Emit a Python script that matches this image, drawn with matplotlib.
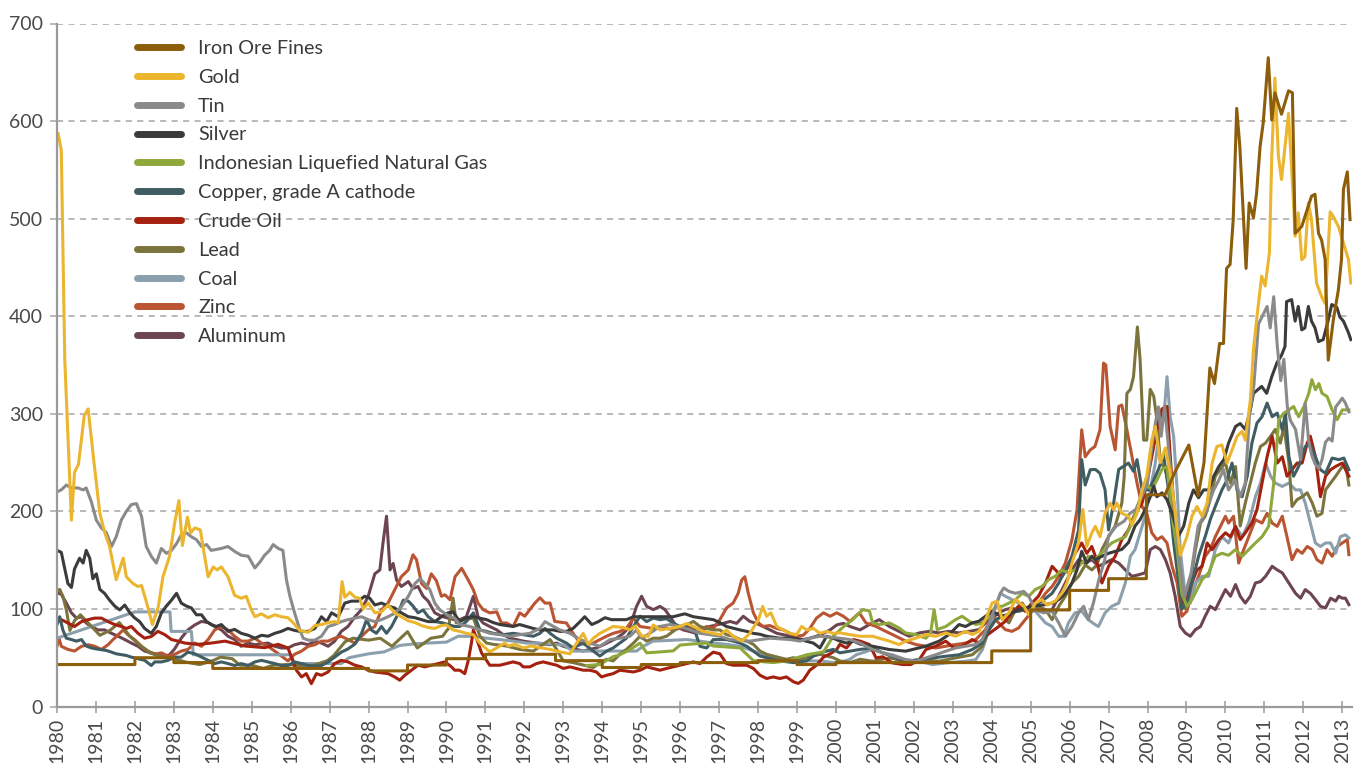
import matplotlib.pyplot as plt
from matplotlib.ticker import MultipleLocator

plt.rcParams['font.family'] = ['Lato', 'DejaVu Sans']

# (year, index value)
iron_ore = [(1980.0, 43), (1982.0, 43), (1982.0, 50), (1983.0, 50), (1983.0, 45), (1984.0, 45), (1984.0, 39),
            (1988.0, 39), (1988.0, 36.5), (1989.0, 36.5), (1989.0, 42.5), (1990.0, 42.5), (1990.0, 49),
            (1991.0, 49), (1991.0, 53.5), (1992.8, 53.5), (1992.8, 47), (1994.0, 47), (1994.0, 40),
            (1995.0, 40), (1995.0, 43), (1996.0, 43), (1996.0, 45), (1998.0, 45), (1998.0, 47), (1999.0, 47),
            (1999.0, 43), (2000.0, 43), (2000.0, 45), (2004.0, 45), (2004.0, 57), (2005.0, 57), (2005.0, 99),
            (2006.0, 99), (2006.0, 119), (2007.0, 119), (2007.0, 131), (2007.97, 131), (2007.97, 217),
            (2008.45, 217), (2008.7, 240), (2009.06, 268), (2009.3, 216), (2009.45, 250), (2009.6, 347),
            (2009.72, 331), (2009.85, 372), (2009.95, 372), (2010.03, 449), (2010.12, 453), (2010.2, 499),
            (2010.29, 613), (2010.37, 574), (2010.53, 449), (2010.61, 516), (2010.72, 501), (2010.8, 526),
            (2010.89, 574), (2010.97, 598), (2011.1, 665), (2011.19, 601), (2011.27, 629), (2011.44, 607),
            (2011.62, 631), (2011.72, 629), (2011.79, 485), (2011.96, 492), (2012.21, 523), (2012.3, 525),
            (2012.39, 485), (2012.47, 478), (2012.56, 458), (2012.64, 355), (2012.77, 396), (2012.9, 427),
            (2012.98, 458), (2013.03, 530), (2013.13, 548), (2013.2, 499)]

gold = [(1980.03, 587), (1980.11, 570), (1980.2, 355), (1980.37, 191), (1980.45, 240), (1980.55, 248),
        (1980.7, 298), (1980.8, 305), (1980.95, 250), (1981.1, 198), (1981.22, 179), (1981.35, 164),
        (1981.52, 130), (1981.7, 152), (1981.78, 133), (1981.95, 126), (1982.08, 123), (1982.17, 124),
        (1982.29, 108), (1982.45, 84), (1982.6, 102), (1982.72, 133), (1982.89, 154), (1983.02, 188),
        (1983.13, 211), (1983.22, 165), (1983.35, 194), (1983.43, 178), (1983.54, 183), (1983.68, 181),
        (1983.79, 154), (1983.88, 133), (1984.01, 143), (1984.11, 140), (1984.22, 143), (1984.39, 133),
        (1984.56, 114), (1984.73, 111), (1984.86, 113), (1984.99, 99), (1985.08, 92), (1985.25, 95),
        (1985.42, 91), (1985.59, 94), (1985.76, 92), (1985.93, 91), (1986.06, 86), (1986.23, 78),
        (1986.45, 76), (1986.62, 83), (1986.79, 84), (1986.96, 86), (1987.13, 87), (1987.22, 86),
        (1987.32, 128), (1987.39, 112), (1987.52, 117), (1987.65, 112), (1987.77, 111), (1987.86, 100),
        (1987.99, 106), (1988.16, 96), (1988.33, 97), (1988.5, 104), (1988.67, 96), (1988.84, 92),
        (1989.01, 88), (1989.19, 86), (1989.36, 83), (1989.53, 81), (1989.7, 80), (1989.87, 83),
        (1990.0, 83.6), (1990.17, 78.5), (1990.34, 77), (1990.51, 75), (1990.69, 73.6), (1990.86, 65),
        (1991.11, 56), (1991.29, 60), (1991.5, 65), (1991.59, 62), (1991.76, 63.7), (1991.97, 60),
        (1992.18, 62), (1992.4, 60.3), (1992.66, 58.5), (1992.91, 56), (1993.17, 54), (1993.34, 65),
        (1993.51, 75), (1993.64, 63.7), (1993.77, 70), (1993.94, 75), (1994.11, 78.5), (1994.28, 82),
        (1994.54, 81), (1994.71, 78.5), (1994.84, 82.5), (1995.01, 72.4), (1995.18, 72), (1995.31, 83.6),
        (1995.48, 78.5), (1995.74, 80), (1995.99, 82), (1996.17, 85), (1996.34, 82), (1996.59, 77),
        (1996.85, 75), (1997.02, 73.6), (1997.19, 78.5), (1997.36, 72), (1997.58, 67), (1997.79, 75),
        (1998.01, 89), (1998.12, 102.5), (1998.22, 92.5), (1998.33, 96), (1998.48, 82), (1998.65, 78.5),
        (1998.82, 75), (1998.99, 73.6), (1999.12, 82), (1999.25, 78.5), (1999.42, 80), (1999.59, 75),
        (1999.76, 77), (1999.93, 75), (2000.1, 75.5), (2000.36, 73.6), (2000.62, 72), (2000.94, 72),
        (2001.37, 67), (2001.62, 63.5), (2001.79, 67), (2002.05, 70), (2002.31, 73.7), (2002.56, 72),
        (2002.82, 75.4), (2003.07, 72), (2003.33, 77), (2003.5, 73.7), (2003.67, 77), (2003.84, 89),
        (2004.01, 106), (2004.14, 108), (2004.27, 89), (2004.44, 96), (2004.61, 109.6), (2004.82, 103),
        (2004.95, 94), (2005.12, 106), (2005.29, 109.6), (2005.42, 104), (2005.63, 108), (2005.8, 116),
        (2005.93, 126.6), (2006.06, 147), (2006.23, 168), (2006.34, 202), (2006.44, 164), (2006.57, 178),
        (2006.66, 184.6), (2006.78, 174), (2006.91, 198), (2007.04, 208.5), (2007.13, 201.7),
        (2007.21, 208.5), (2007.34, 198), (2007.51, 195), (2007.6, 186), (2007.73, 198), (2007.86, 222),
        (2007.98, 236), (2008.11, 273), (2008.2, 287), (2008.33, 250), (2008.46, 265), (2008.58, 240),
        (2008.71, 200), (2008.84, 155), (2009.01, 174), (2009.14, 195), (2009.27, 205), (2009.4, 195),
        (2009.53, 208.5), (2009.66, 249.5), (2009.78, 266.5), (2009.91, 268), (2010.04, 249.5),
        (2010.17, 263), (2010.3, 277), (2010.43, 282), (2010.51, 273), (2010.64, 314), (2010.72, 366),
        (2010.8, 396), (2010.93, 441), (2011.02, 431), (2011.13, 465), (2011.19, 564), (2011.27, 644),
        (2011.36, 564), (2011.44, 540), (2011.62, 608), (2011.74, 523), (2011.79, 482), (2011.87, 506),
        (2011.96, 458), (2012.04, 461), (2012.13, 516), (2012.21, 499), (2012.34, 434), (2012.47, 420),
        (2012.56, 413), (2012.69, 507), (2012.77, 502), (2012.9, 492), (2013.03, 475), (2013.16, 458),
        (2013.22, 434)]

tin = [(1980.0, 220), (1980.11, 222), (1980.24, 227), (1980.37, 224), (1980.54, 224), (1980.67, 222),
       (1980.75, 224), (1980.88, 210), (1981.01, 191), (1981.14, 183), (1981.27, 178), (1981.4, 164),
       (1981.52, 174), (1981.65, 191), (1981.78, 200), (1981.91, 207), (1982.04, 208), (1982.17, 195),
       (1982.29, 164), (1982.42, 154), (1982.55, 147), (1982.68, 162), (1982.81, 157), (1982.94, 160),
       (1983.07, 167), (1983.19, 176), (1983.32, 178), (1983.45, 174), (1983.58, 171), (1983.71, 164),
       (1983.84, 166), (1983.96, 160), (1984.22, 162), (1984.39, 164), (1984.56, 159), (1984.73, 155),
       (1984.91, 154), (1985.08, 142), (1985.21, 148), (1985.33, 155), (1985.46, 160), (1985.55, 166),
       (1985.68, 162), (1985.8, 160), (1985.89, 130), (1985.98, 113), (1986.1, 96), (1986.23, 79),
       (1986.32, 70), (1986.45, 68), (1986.62, 68), (1986.79, 72), (1986.96, 82), (1987.13, 84),
       (1987.3, 87), (1987.47, 89), (1987.82, 92), (1987.99, 89), (1988.16, 87), (1988.33, 89),
       (1988.5, 92), (1988.67, 95.5), (1988.84, 102), (1989.02, 113), (1989.19, 126), (1989.32, 131),
       (1989.44, 126), (1989.57, 120), (1989.7, 106), (1989.83, 99), (1989.96, 95.5), (1990.09, 92),
       (1990.21, 90.6), (1990.34, 84), (1990.6, 82), (1990.86, 78.5), (1991.11, 75), (1991.37, 73.6),
       (1991.63, 72), (1991.88, 73.6), (1992.14, 75), (1992.4, 80), (1992.53, 87), (1992.66, 84),
       (1992.91, 78.5), (1993.17, 75), (1993.43, 68.6), (1993.68, 65), (1993.94, 61.7), (1994.2, 68.6),
       (1994.45, 70), (1994.71, 72), (1994.88, 78.5), (1995.01, 70), (1995.22, 75), (1995.48, 82),
       (1995.74, 84), (1995.99, 82), (1996.25, 78.5), (1996.51, 75), (1996.76, 73.6), (1997.02, 72),
       (1997.28, 68.6), (1997.79, 67), (1998.05, 68.6), (1998.31, 70), (1998.82, 68.6), (1999.08, 67),
       (1999.33, 70), (1999.59, 72), (2000.1, 70), (2000.36, 68.6), (2000.62, 65), (2000.94, 58.4),
       (2001.37, 53), (2001.79, 48), (2002.05, 46.4), (2002.31, 49.8), (2002.56, 53), (2002.82, 56.7),
       (2003.07, 60), (2003.33, 61.8), (2003.59, 63.5), (2003.76, 68.6), (2003.93, 85.7), (2004.1, 102.7),
       (2004.22, 116), (2004.31, 121.5), (2004.44, 118), (2004.61, 116), (2004.82, 118), (2004.95, 113),
       (2005.12, 99), (2005.33, 96), (2005.55, 97.6), (2005.72, 85.7), (2005.89, 72), (2006.06, 82),
       (2006.23, 96), (2006.36, 102.7), (2006.48, 89), (2006.61, 106), (2006.75, 130), (2006.9, 150),
       (2007.0, 175), (2007.2, 185), (2007.4, 190), (2007.55, 198), (2007.7, 202), (2007.85, 215),
       (2008.0, 229), (2008.1, 263), (2008.2, 290), (2008.28, 307), (2008.35, 277), (2008.44, 308),
       (2008.55, 260), (2008.7, 200), (2008.85, 140), (2008.95, 113), (2009.12, 137), (2009.3, 185),
       (2009.44, 195), (2009.57, 208), (2009.7, 222), (2009.83, 232), (2009.95, 243), (2010.08, 222),
       (2010.25, 232), (2010.38, 215), (2010.51, 229), (2010.62, 300), (2010.73, 329), (2010.85, 392),
       (2011.07, 410), (2011.15, 388), (2011.24, 420), (2011.33, 370), (2011.42, 334), (2011.5, 356),
       (2011.59, 307), (2011.67, 293), (2011.8, 284), (2011.93, 253), (2012.05, 311), (2012.14, 271),
       (2012.22, 257), (2012.31, 248), (2012.4, 244), (2012.48, 253), (2012.57, 271), (2012.66, 275),
       (2012.74, 272), (2012.83, 307), (2012.91, 311), (2013.0, 316), (2013.08, 311), (2013.17, 302)]

silver = [(1980.0, 160), (1980.11, 158), (1980.2, 141), (1980.28, 126), (1980.37, 122), (1980.45, 141),
          (1980.58, 152), (1980.67, 147), (1980.75, 160), (1980.84, 152), (1980.92, 131), (1981.01, 136),
          (1981.1, 120), (1981.22, 116), (1981.35, 109), (1981.48, 103), (1981.61, 99), (1981.74, 104),
          (1981.87, 96), (1981.99, 91), (1982.12, 87), (1982.25, 80), (1982.42, 75), (1982.55, 82),
          (1982.68, 96), (1982.81, 103), (1982.94, 109), (1983.07, 116), (1983.19, 106), (1983.32, 103),
          (1983.45, 101), (1983.58, 94), (1983.71, 94), (1983.84, 87), (1983.96, 84), (1984.09, 82),
          (1984.22, 84), (1984.39, 77), (1984.56, 79), (1984.73, 75), (1984.91, 73), (1985.08, 70),
          (1985.25, 73), (1985.42, 72), (1985.59, 75), (1985.76, 77), (1985.93, 80), (1986.1, 78),
          (1986.23, 77), (1986.45, 77), (1986.62, 80), (1986.79, 92), (1986.92, 87), (1987.05, 96),
          (1987.22, 92), (1987.39, 106), (1987.56, 108), (1987.73, 108), (1987.9, 113), (1988.03, 111),
          (1988.16, 104), (1988.33, 106), (1988.5, 103), (1988.67, 101), (1988.84, 96), (1989.02, 92),
          (1989.19, 91), (1989.36, 89), (1989.53, 87), (1989.7, 87), (1989.87, 92), (1990.04, 96),
          (1990.17, 97), (1990.34, 87), (1990.51, 91), (1990.69, 92), (1991.03, 89), (1991.2, 86),
          (1991.37, 84), (1991.71, 82), (1991.88, 84), (1992.23, 80), (1992.4, 78.5), (1992.74, 78.5),
          (1992.91, 77), (1993.08, 77), (1993.25, 80), (1993.43, 87), (1993.55, 92), (1993.73, 84),
          (1993.9, 87), (1994.07, 91), (1994.24, 89), (1994.62, 89), (1994.8, 92), (1995.14, 92),
          (1995.48, 92), (1995.82, 92), (1996.12, 95), (1996.34, 92), (1996.51, 91), (1996.85, 89),
          (1997.02, 86), (1997.19, 82), (1997.53, 78.5), (1997.71, 77), (1997.88, 75), (1998.05, 74),
          (1998.22, 72), (1998.56, 70), (1998.91, 70), (1999.08, 68.6), (1999.42, 65), (1999.59, 60),
          (1999.76, 72), (1999.93, 70), (2000.1, 67), (2000.27, 65), (2000.45, 67), (2000.62, 64),
          (2000.94, 61.8), (2001.37, 58.4), (2001.79, 56.7), (2002.31, 61.8), (2002.65, 67), (2002.9, 73.7),
          (2003.16, 84), (2003.33, 82), (2003.5, 85.7), (2003.67, 87.4), (2003.84, 92.5), (2004.01, 97.6),
          (2004.18, 94), (2004.35, 92.5), (2004.52, 96), (2004.69, 99.3), (2004.86, 101), (2005.03, 102.7),
          (2005.38, 104.4), (2005.55, 106), (2005.72, 109.6), (2005.89, 116), (2006.06, 126.6),
          (2006.19, 140), (2006.31, 159), (2006.44, 147), (2006.57, 154), (2006.66, 150.5), (2006.83, 154),
          (2007.0, 157), (2007.17, 159), (2007.34, 161), (2007.51, 168), (2007.68, 185), (2007.81, 191.5),
          (2007.94, 202), (2008.07, 215), (2008.16, 226), (2008.24, 215), (2008.37, 219), (2008.5, 212),
          (2008.63, 198), (2008.8, 175), (2008.93, 185), (2009.06, 208.5), (2009.18, 222), (2009.31, 214),
          (2009.44, 222), (2009.57, 222), (2009.7, 236), (2009.83, 246), (2009.96, 253), (2010.08, 270),
          (2010.26, 287), (2010.38, 290), (2010.51, 284), (2010.64, 304), (2010.72, 321), (2010.93, 328),
          (2011.06, 321), (2011.19, 338), (2011.32, 352), (2011.44, 360), (2011.53, 369), (2011.57, 415),
          (2011.7, 417), (2011.79, 395), (2011.87, 410), (2011.96, 386), (2012.04, 388), (2012.13, 410),
          (2012.21, 395), (2012.3, 388), (2012.39, 374), (2012.51, 376), (2012.64, 396), (2012.73, 412),
          (2012.86, 409), (2012.94, 399), (2013.03, 395), (2013.16, 383), (2013.22, 376)]

lng = [(1993.6, 42), (1993.94, 43), (1994.1, 47), (1994.28, 51), (1994.45, 53), (1994.7, 58), (1994.97, 65),
       (1995.14, 55), (1995.5, 56), (1995.82, 57), (1996.0, 63), (1996.3, 64), (1996.68, 65), (1996.85, 62),
       (1997.2, 61), (1997.54, 60), (1997.88, 47), (1998.1, 46), (1998.39, 45), (1998.8, 47), (1999.0, 50),
       (1999.25, 53), (1999.68, 56), (1999.93, 72), (2000.2, 82), (2000.43, 89), (2000.69, 99.3),
       (2000.86, 98), (2000.94, 85.7), (2001.11, 84), (2001.37, 85.7), (2001.62, 80.5), (2001.79, 75.4),
       (2002.05, 73.7), (2002.31, 70), (2002.43, 75.4), (2002.52, 99.3), (2002.6, 78.8), (2002.82, 82),
       (2003.07, 89), (2003.24, 92.5), (2003.42, 87.4), (2003.59, 84), (2003.76, 85.7), (2003.93, 92.5),
       (2004.1, 102.7), (2004.27, 102.7), (2004.44, 106), (2004.61, 109.6), (2004.78, 116), (2004.95, 113),
       (2005.12, 120), (2005.29, 123), (2005.46, 130), (2005.63, 133.4), (2005.8, 140), (2005.97, 137),
       (2006.14, 140), (2006.31, 147), (2006.48, 154), (2006.65, 150.5), (2006.91, 160.8), (2007.08, 167.6),
       (2007.26, 171), (2007.43, 174), (2007.6, 188), (2007.77, 208.5), (2007.94, 229), (2008.11, 222),
       (2008.24, 232), (2008.37, 243), (2008.5, 246), (2008.63, 195), (2008.76, 160.8), (2008.88, 116),
       (2009.01, 102.7), (2009.14, 109.6), (2009.27, 119.8), (2009.4, 130), (2009.57, 137), (2009.74, 154),
       (2009.91, 157), (2010.08, 155), (2010.26, 160.8), (2010.43, 154), (2010.6, 160.8), (2010.77, 167.6),
       (2010.94, 174), (2011.11, 184.6), (2011.24, 229), (2011.37, 294), (2011.5, 300.7), (2011.63, 304),
       (2011.75, 307.5), (2011.88, 297), (2012.01, 307), (2012.14, 321), (2012.22, 335), (2012.31, 324.6),
       (2012.4, 331), (2012.48, 321), (2012.61, 317.7), (2012.74, 304), (2012.87, 294), (2013.0, 304),
       (2013.17, 304)]

copper = [(1980.0, 84), (1980.07, 92), (1980.15, 78.5), (1980.24, 70), (1980.37, 68.6), (1980.5, 67),
          (1980.63, 68.6), (1980.75, 62), (1980.88, 60), (1981.01, 59), (1981.27, 57.4), (1981.4, 55.7),
          (1981.52, 54), (1981.78, 52.3), (1981.91, 50.6), (1982.08, 49), (1982.25, 47.3), (1982.42, 42),
          (1982.51, 45.7), (1982.68, 45.7), (1982.85, 47.3), (1983.02, 50.6), (1983.19, 50.6),
          (1983.36, 55.7), (1983.54, 54), (1983.71, 50.6), (1983.88, 47.3), (1984.05, 44), (1984.22, 45.7),
          (1984.39, 44), (1984.56, 42), (1984.73, 44), (1984.91, 42), (1985.08, 45.7), (1985.25, 47.3),
          (1985.42, 45.7), (1985.59, 44), (1985.76, 42), (1985.93, 42), (1986.1, 45.7), (1986.28, 44),
          (1986.45, 42), (1986.62, 41.5), (1986.79, 42), (1986.96, 45.7), (1987.13, 50.6), (1987.3, 55.7),
          (1987.47, 59), (1987.65, 64), (1987.82, 75), (1987.95, 89), (1988.07, 78.5), (1988.2, 75),
          (1988.33, 82), (1988.46, 75), (1988.59, 82), (1988.72, 92), (1988.89, 109), (1989.02, 108),
          (1989.14, 103), (1989.27, 96), (1989.4, 99), (1989.53, 92), (1989.7, 87), (1989.87, 86),
          (1990.04, 84), (1990.21, 82), (1990.34, 82), (1990.51, 87), (1990.69, 96), (1990.86, 78.5),
          (1991.03, 77), (1991.2, 75), (1991.46, 73.6), (1991.71, 75), (1991.97, 73.6), (1992.23, 72),
          (1992.4, 75), (1992.53, 80), (1992.66, 75), (1992.83, 70), (1993.08, 65), (1993.25, 60),
          (1993.51, 65), (1993.77, 56.8), (1993.94, 51.7), (1994.11, 56.8), (1994.28, 60), (1994.45, 65),
          (1994.62, 70), (1994.8, 82), (1994.97, 92.5), (1995.14, 87), (1995.31, 90.6), (1995.48, 89),
          (1995.65, 90), (1995.82, 85.6), (1995.99, 82), (1996.17, 83), (1996.34, 82), (1996.51, 61.7),
          (1996.68, 60), (1996.85, 68.6), (1997.19, 68.6), (1997.36, 67), (1997.54, 65), (1997.71, 61.7),
          (1997.88, 56.8), (1998.05, 51.7), (1998.22, 50), (1998.39, 48.4), (1998.56, 46.7), (1998.91, 45),
          (1999.25, 46.7), (1999.42, 51.7), (1999.59, 55), (1999.76, 56.8), (1999.93, 58.5), (2000.1, 55),
          (2000.36, 56.8), (2000.62, 58.5), (2000.94, 60), (2001.2, 55), (2001.54, 49.8), (2001.79, 46.4),
          (2002.14, 48), (2002.48, 49.8), (2002.82, 51.5), (2003.16, 53), (2003.5, 58.4), (2003.76, 65),
          (2003.93, 78.8), (2004.1, 89), (2004.27, 92.5), (2004.52, 96), (2004.78, 99.3), (2005.03, 102.7),
          (2005.29, 108), (2005.55, 116), (2005.72, 126.6), (2005.89, 140), (2006.06, 154), (2006.23, 181),
          (2006.31, 253), (2006.4, 227), (2006.53, 242.7), (2006.66, 243), (2006.78, 239), (2006.91, 222),
          (2007.0, 181), (2007.13, 208.5), (2007.26, 243), (2007.38, 246), (2007.51, 249.5), (2007.64, 241),
          (2007.73, 253), (2007.86, 222), (2008.03, 222), (2008.16, 232), (2008.28, 243), (2008.41, 258),
          (2008.54, 222), (2008.67, 168), (2008.8, 127), (2008.88, 100), (2009.01, 106), (2009.14, 127),
          (2009.31, 154), (2009.48, 174), (2009.61, 191.5), (2009.74, 205), (2009.91, 222), (2010.04, 232),
          (2010.17, 249.5), (2010.3, 222), (2010.43, 215), (2010.56, 236), (2010.68, 270), (2010.81, 290.5),
          (2010.94, 297), (2011.07, 311), (2011.2, 297), (2011.33, 300.7), (2011.46, 283.6),
          (2011.54, 300.7), (2011.63, 256), (2011.75, 236), (2011.88, 246), (2012.05, 266.5),
          (2012.18, 268), (2012.31, 256), (2012.44, 242.7), (2012.57, 239), (2012.74, 254.6),
          (2012.91, 253), (2013.04, 254.6), (2013.17, 242.7)]

crude_oil = [(1980.0, 87), (1980.11, 89), (1980.28, 85.6), (1980.45, 82), (1980.63, 87), (1980.8, 89),
             (1980.97, 90.6), (1981.14, 90.6), (1981.31, 87), (1981.48, 84), (1981.65, 82), (1981.78, 80),
             (1981.91, 82), (1982.08, 75), (1982.25, 70), (1982.42, 71.7), (1982.59, 77), (1982.77, 73.6),
             (1982.94, 68.6), (1983.11, 67), (1983.28, 65), (1983.62, 63.7), (1983.96, 65), (1984.31, 67),
             (1984.65, 63.7), (1984.82, 62), (1985.33, 60.3), (1985.68, 63.7), (1985.93, 60), (1986.02, 50.6),
             (1986.15, 37), (1986.28, 30.3), (1986.4, 33.7), (1986.53, 23.4), (1986.66, 33.7), (1986.79, 32),
             (1986.96, 35.4), (1987.13, 44), (1987.3, 47.3), (1987.47, 45.7), (1987.65, 42.3),
             (1987.82, 40.6), (1987.99, 37.2), (1988.16, 35.4), (1988.5, 33.7), (1988.67, 30.3), (1988.8, 27),
             (1988.93, 32), (1989.1, 37.2), (1989.27, 42.3), (1989.44, 40.6), (1989.61, 42.3), (1989.79, 44),
             (1989.96, 45.7), (1990.13, 40.6), (1990.21, 37.2), (1990.34, 37.2), (1990.47, 33.7),
             (1990.56, 47.3), (1990.64, 65), (1990.69, 78.5), (1990.77, 70), (1990.9, 55), (1991.11, 42.3),
             (1991.37, 42.3), (1991.54, 44), (1991.71, 45.7), (1991.88, 44), (1991.97, 40.6), (1992.14, 40.6),
             (1992.31, 44), (1992.48, 45.7), (1992.66, 44), (1992.83, 42.3), (1993.0, 39), (1993.17, 40.6),
             (1993.51, 37.2), (1993.68, 37.2), (1993.85, 35.4), (1993.98, 30.3), (1994.11, 32),
             (1994.28, 33.7), (1994.45, 37.2), (1994.8, 35.4), (1994.97, 37.2), (1995.14, 40.6), (1995.31, 39),
             (1995.48, 37.2), (1995.65, 39), (1995.82, 40.6), (1995.99, 42.3), (1996.17, 44), (1996.34, 45.7),
             (1996.51, 44), (1996.68, 50.6), (1996.85, 55.7), (1997.02, 54), (1997.19, 44), (1997.36, 42.3),
             (1997.71, 42.3), (1997.88, 39), (1998.05, 32), (1998.22, 28.7), (1998.39, 30.3), (1998.56, 28.7),
             (1998.73, 30.3), (1998.91, 25.3), (1999.03, 23.6), (1999.16, 27), (1999.33, 37.2),
             (1999.5, 42.3), (1999.68, 50.6), (1999.85, 54), (2000.02, 58.5), (2000.1, 63.7), (2000.27, 60),
             (2000.45, 68.6), (2000.62, 67), (2000.86, 63.5), (2001.03, 49.8), (2001.2, 51), (2001.45, 44.7),
             (2001.71, 43), (2001.92, 43), (2002.14, 48), (2002.31, 58.4), (2002.56, 61.8), (2002.82, 67),
             (2003.03, 60), (2003.24, 61.8), (2003.5, 68.6), (2003.67, 65), (2003.84, 72), (2004.01, 77),
             (2004.18, 82), (2004.35, 87.4), (2004.52, 96), (2004.69, 102.7), (2004.86, 97.6),
             (2005.03, 106), (2005.2, 113), (2005.38, 126.6), (2005.55, 143.7), (2005.67, 138.6),
             (2005.8, 133), (2005.97, 143.7), (2006.14, 157), (2006.31, 167.6), (2006.44, 157),
             (2006.57, 164), (2006.66, 154), (2006.83, 126.6), (2007.0, 143.7), (2007.17, 154),
             (2007.34, 171), (2007.51, 181), (2007.68, 198), (2007.86, 208.5), (2007.98, 229),
             (2008.11, 256), (2008.24, 283.6), (2008.37, 305), (2008.5, 307.5), (2008.63, 229),
             (2008.76, 160.8), (2008.88, 106), (2009.01, 109.6), (2009.14, 126.6), (2009.27, 140),
             (2009.4, 143.7), (2009.53, 167.6), (2009.66, 160.8), (2009.83, 171), (2010.0, 178),
             (2010.13, 174), (2010.26, 184.6), (2010.38, 171), (2010.51, 178), (2010.68, 188),
             (2010.81, 201.7), (2010.94, 229), (2011.07, 256), (2011.2, 277), (2011.33, 249.5),
             (2011.46, 256), (2011.58, 236), (2011.71, 242.7), (2011.84, 249.5), (2011.97, 249.5),
             (2012.1, 270), (2012.18, 277), (2012.31, 256), (2012.44, 215), (2012.57, 236), (2012.7, 242.7),
             (2012.83, 246), (2013.0, 249.5), (2013.17, 236)]

lead = [(1980.0, 118), (1980.07, 120), (1980.15, 113), (1980.24, 99), (1980.33, 78), (1980.45, 88),
        (1980.6, 94), (1980.84, 84), (1981.1, 73), (1981.36, 78), (1981.6, 86), (1981.87, 72),
        (1982.12, 63), (1982.38, 55), (1982.6, 52), (1983.0, 49), (1983.3, 45.6), (1983.66, 43),
        (1984.0, 47), (1984.2, 50.6), (1984.5, 49), (1984.7, 42.3), (1985.0, 42.3), (1985.3, 39),
        (1985.55, 42.3), (1985.9, 43), (1986.26, 42), (1986.6, 42.3), (1986.94, 47), (1987.1, 52),
        (1987.4, 66.5), (1987.6, 70), (1988.0, 68), (1988.3, 70), (1988.6, 61.7), (1989.0, 76.7),
        (1989.25, 60), (1989.6, 70), (1989.9, 72), (1990.05, 80), (1990.17, 111), (1990.25, 85.6),
        (1990.43, 89), (1990.69, 90.6), (1990.86, 72), (1991.03, 65), (1991.2, 63.7), (1991.54, 62),
        (1991.88, 58.5), (1992.23, 56.8), (1992.48, 63.7), (1992.66, 68.6), (1992.83, 58.5), (1993.0, 46.7),
        (1993.25, 45), (1993.43, 43.3), (1993.6, 41.6), (1993.77, 40), (1993.94, 45), (1994.11, 48.4),
        (1994.28, 46.7), (1994.45, 53.5), (1994.62, 58.5), (1994.8, 65), (1994.97, 72), (1995.14, 67),
        (1995.31, 70), (1995.48, 70), (1995.65, 72), (1995.82, 77), (1995.99, 82), (1996.17, 83.6),
        (1996.34, 87.2), (1996.51, 82), (1996.68, 80), (1996.85, 78.5), (1997.02, 78.5), (1997.19, 73.6),
        (1997.36, 72), (1997.54, 68.6), (1997.71, 67), (1997.88, 63.7), (1998.05, 56.8), (1998.22, 53.5),
        (1998.39, 51.7), (1998.56, 50), (1998.73, 48.4), (1998.91, 50), (1999.08, 48.4), (1999.25, 50),
        (1999.42, 51.7), (1999.59, 53.5), (1999.76, 51.7), (1999.93, 50), (2000.1, 46.7), (2000.36, 45),
        (2000.62, 48.4), (2000.94, 46.4), (2001.37, 49.8), (2001.79, 46.4), (2002.22, 48), (2002.65, 46.4),
        (2003.07, 49.8), (2003.5, 53), (2003.76, 61.8), (2003.93, 78.8), (2004.1, 89), (2004.27, 92.5),
        (2004.44, 85.7), (2004.61, 99.3), (2004.78, 106), (2004.95, 96), (2005.2, 102.7), (2005.38, 99.3),
        (2005.55, 89), (2005.72, 102.7), (2005.89, 113), (2006.06, 126.6), (2006.23, 133.4), (2006.4, 145),
        (2006.57, 140), (2006.7, 145), (2006.83, 161), (2007.0, 174), (2007.17, 185), (2007.34, 208.5),
        (2007.4, 235), (2007.47, 321), (2007.56, 325), (2007.64, 338), (2007.74, 389), (2007.81, 355),
        (2007.9, 273), (2007.98, 273), (2008.07, 325), (2008.16, 318), (2008.24, 294), (2008.33, 250),
        (2008.46, 243), (2008.58, 222), (2008.71, 178), (2008.84, 113), (2008.97, 100), (2009.1, 127),
        (2009.23, 161), (2009.36, 188), (2009.48, 195), (2009.61, 212), (2009.74, 236), (2009.87, 243),
        (2010.0, 250), (2010.13, 229), (2010.26, 246), (2010.38, 185), (2010.51, 208.5), (2010.64, 229),
        (2010.77, 250), (2010.9, 266.5), (2011.03, 270), (2011.16, 277), (2011.28, 284), (2011.41, 270),
        (2011.5, 287), (2011.63, 250), (2011.71, 205), (2011.84, 212), (2011.97, 215), (2012.1, 219),
        (2012.23, 208.5), (2012.35, 195), (2012.48, 198), (2012.57, 222), (2012.7, 229), (2012.83, 236),
        (2012.95, 243), (2013.08, 250), (2013.17, 227)]

coal = [(1980.0, 70), (1982.0, 97), (1982.9, 97), (1982.93, 77), (1983.45, 77), (1983.5, 53), (1986.0, 53),
        (1986.1, 44), (1987.3, 44), (1987.5, 50), (1988.0, 54), (1988.4, 56), (1988.8, 62.6), (1989.2, 64.3),
        (1990.0, 66), (1990.3, 72), (1990.69, 72), (1991.03, 70), (1991.37, 68.6), (1991.71, 67),
        (1992.06, 65), (1992.4, 65), (1992.74, 63.7), (1993.0, 63), (1993.25, 56.8), (1994.88, 56.8),
        (1995.05, 61.7), (1995.31, 67), (1996.17, 68.6), (1996.51, 67), (1996.85, 65), (1997.19, 63.7),
        (1997.54, 61.7), (1997.88, 56.8), (1998.22, 51.7), (1998.56, 48.4), (1998.91, 46.7), (1999.59, 46.7),
        (1999.93, 45), (2000.1, 45), (2000.36, 48.4), (2000.52, 53), (2000.94, 58.4), (2001.2, 55),
        (2001.45, 53), (2001.79, 48), (2002.14, 46.4), (2002.48, 43), (2002.82, 44.7), (2003.33, 46.4),
        (2003.59, 48), (2003.76, 58.4), (2003.93, 78.8), (2004.1, 102.7), (2004.22, 116), (2004.35, 113),
        (2004.52, 109.6), (2004.69, 106), (2004.86, 97.6), (2005.12, 97.6), (2005.38, 85.7), (2005.55, 82),
        (2005.72, 72), (2005.85, 72), (2005.97, 85.7), (2006.14, 96), (2006.31, 97.6), (2006.48, 89),
        (2006.65, 84), (2006.74, 82), (2006.91, 96), (2007.08, 102.7), (2007.26, 106), (2007.43, 126.6),
        (2007.56, 154), (2007.68, 160.8), (2007.81, 178), (2007.94, 195), (2008.07, 222), (2008.2, 249.5),
        (2008.33, 290.5), (2008.44, 307.5), (2008.5, 338), (2008.58, 297), (2008.67, 277), (2008.76, 222),
        (2008.84, 160.8), (2008.97, 113), (2009.1, 106), (2009.23, 126.6), (2009.4, 133.4), (2009.57, 133.4),
        (2009.74, 160.8), (2009.91, 174), (2010.08, 167.6), (2010.26, 184.6), (2010.43, 174), (2010.6, 188),
        (2010.77, 215), (2010.9, 229), (2011.03, 249.5), (2011.16, 236), (2011.28, 229), (2011.46, 225.6),
        (2011.63, 229), (2011.8, 222), (2011.93, 222), (2012.05, 208.5), (2012.18, 188), (2012.31, 167.6),
        (2012.44, 164), (2012.57, 167.6), (2012.7, 167.6), (2012.83, 157), (2012.95, 174), (2013.08, 176),
        (2013.17, 172.7)]

zinc = [(1980.0, 62), (1980.05, 70), (1980.11, 61.7), (1980.28, 58.5), (1980.45, 56.8), (1980.63, 61.7),
        (1980.8, 63.3), (1980.97, 61.7), (1981.14, 58.5), (1981.31, 63.3), (1981.44, 68.6), (1981.57, 73.6),
        (1981.7, 78.5), (1981.82, 73.6), (1981.99, 68.6), (1982.17, 61.7), (1982.34, 56.8), (1982.51, 53.5),
        (1982.68, 55), (1982.85, 51.7), (1983.02, 53.5), (1983.19, 56.8), (1983.36, 58.5), (1983.54, 65),
        (1983.71, 61.7), (1983.88, 68.6), (1984.05, 78.5), (1984.22, 82), (1984.39, 78.5), (1984.56, 72),
        (1984.73, 67), (1984.91, 67), (1985.08, 70), (1985.25, 65), (1985.42, 61.7), (1985.59, 56.8),
        (1985.76, 51.7), (1985.93, 46.7), (1986.1, 53.5), (1986.28, 56.8), (1986.45, 61.7), (1986.62, 63.3),
        (1986.79, 67), (1986.96, 67), (1987.13, 70), (1987.3, 72), (1987.47, 68.6), (1987.65, 65),
        (1987.82, 72), (1987.99, 78.5), (1988.16, 82), (1988.33, 99), (1988.5, 106), (1988.67, 119.6),
        (1988.84, 133), (1989.02, 140), (1989.14, 155.5), (1989.23, 150.5), (1989.36, 126), (1989.49, 121),
        (1989.61, 136), (1989.74, 129), (1989.87, 113), (1989.96, 114.5), (1990.09, 109.4), (1990.22, 133),
        (1990.39, 141.6), (1990.56, 129.6), (1990.69, 119.6), (1990.81, 106), (1990.94, 99.3), (1991.11, 96),
        (1991.29, 97), (1991.41, 85.6), (1991.54, 85.6), (1991.71, 82), (1991.88, 96), (1992.01, 92.5),
        (1992.14, 99.3), (1992.27, 106), (1992.4, 111.4), (1992.53, 106), (1992.66, 106), (1992.78, 87.2),
        (1993.08, 85.6), (1993.25, 75), (1993.43, 65), (1993.6, 63.3), (1993.77, 65), (1993.94, 68.6),
        (1994.11, 72), (1994.28, 75), (1994.45, 76.8), (1994.62, 80), (1994.8, 90.6), (1994.97, 82),
        (1995.31, 80), (1995.48, 82), (1995.82, 78.5), (1996.17, 82), (1996.51, 78.5), (1996.68, 82),
        (1996.85, 80), (1997.02, 89), (1997.19, 101), (1997.36, 106), (1997.49, 116), (1997.58, 129.6),
        (1997.66, 133), (1997.75, 116), (1997.88, 96), (1998.01, 85.6), (1998.13, 82), (1998.3, 83),
        (1998.48, 80), (1998.65, 78.5), (1998.82, 75), (1998.99, 72), (1999.16, 73), (1999.33, 80),
        (1999.5, 90.6), (1999.68, 96), (1999.85, 92.5), (2000.02, 96), (2000.19, 92.5), (2000.36, 87.2),
        (2000.6, 96), (2000.77, 85.7), (2001.03, 82), (2001.28, 77), (2001.54, 72), (2001.79, 67),
        (2002.05, 63.5), (2002.31, 61.8), (2002.56, 60), (2002.82, 61.8), (2003.07, 63.5), (2003.33, 65),
        (2003.59, 68.6), (2003.84, 78.8), (2004.01, 92.5), (2004.18, 85.7), (2004.35, 78.8), (2004.52, 77),
        (2004.69, 80.5), (2004.86, 89), (2005.03, 97.6), (2005.2, 106), (2005.38, 116), (2005.55, 123),
        (2005.72, 133.4), (2005.89, 147), (2006.06, 171), (2006.19, 201.7), (2006.31, 283.6), (2006.4, 256),
        (2006.53, 263), (2006.65, 266.5), (2006.78, 283.6), (2006.87, 352), (2006.93, 350), (2007.04, 287),
        (2007.17, 263), (2007.26, 307.5), (2007.34, 309), (2007.47, 283.6), (2007.6, 256), (2007.73, 229),
        (2007.86, 205), (2007.98, 198), (2008.11, 178), (2008.24, 171), (2008.37, 174), (2008.5, 167.6),
        (2008.63, 143.7), (2008.76, 126.6), (2008.88, 92.5), (2009.01, 97.6), (2009.14, 116),
        (2009.31, 133.4), (2009.48, 154), (2009.61, 160.8), (2009.74, 174), (2009.87, 184.6), (2010.0, 195),
        (2010.08, 188), (2010.21, 195), (2010.34, 147), (2010.47, 160.8), (2010.6, 174), (2010.77, 191.5),
        (2010.94, 188), (2011.07, 198), (2011.2, 188), (2011.33, 184.6), (2011.46, 195), (2011.58, 174),
        (2011.71, 150.5), (2011.84, 160.8), (2011.97, 157), (2012.1, 164), (2012.23, 160.8),
        (2012.35, 150.5), (2012.48, 147), (2012.61, 160.8), (2012.74, 154), (2012.87, 164), (2013.0, 167.6),
        (2013.13, 171), (2013.17, 155.6)]

aluminum = [(1980.0, 116.6), (1980.11, 115), (1980.24, 106), (1980.37, 96), (1980.5, 90.6), (1980.63, 92),
            (1980.75, 85.6), (1980.88, 82), (1981.05, 78.5), (1981.22, 78.5), (1981.4, 75), (1981.57, 72),
            (1981.74, 68.6), (1981.91, 65), (1982.08, 61.7), (1982.25, 56.8), (1982.42, 55), (1982.59, 53.5),
            (1982.77, 51.7), (1982.89, 53), (1983.02, 59), (1983.19, 70), (1983.36, 78.5), (1983.54, 83.6),
            (1983.71, 87.2), (1983.88, 86), (1984.05, 82), (1984.22, 78.5), (1984.39, 72), (1984.56, 68.6),
            (1984.73, 61.7), (1984.91, 65), (1985.08, 63.3), (1985.42, 65), (1985.59, 61.7), (1985.76, 60),
            (1985.93, 60), (1986.1, 63.3), (1986.28, 65), (1986.45, 63.3), (1986.62, 67), (1986.79, 65),
            (1986.96, 61.7), (1987.13, 67), (1987.3, 77), (1987.47, 82), (1987.65, 92), (1987.82, 99.3),
            (1987.99, 113), (1988.16, 136), (1988.29, 140), (1988.37, 167.5), (1988.46, 195), (1988.55, 140),
            (1988.63, 146.6), (1988.72, 129.6), (1988.84, 123), (1989.02, 128), (1989.14, 121),
            (1989.27, 123), (1989.4, 113), (1989.53, 108), (1989.7, 96), (1989.87, 92.5), (1990.04, 90.6),
            (1990.21, 89), (1990.34, 89), (1990.51, 92), (1990.69, 113), (1990.81, 92), (1990.94, 85.6),
            (1991.11, 82), (1991.29, 78.5), (1991.46, 73.6), (1991.63, 70), (1991.8, 68.6), (1991.97, 67),
            (1992.31, 65), (1992.66, 63.3), (1992.83, 65), (1993.0, 61.7), (1993.17, 60), (1993.34, 58.5),
            (1993.51, 56.8), (1993.68, 58.5), (1993.85, 60), (1994.03, 63.3), (1994.37, 70), (1994.54, 75),
            (1994.71, 82), (1994.88, 102.6), (1995.01, 113), (1995.14, 102.6), (1995.31, 99.3),
            (1995.48, 102.6), (1995.61, 99.3), (1995.74, 92), (1995.91, 82), (1996.08, 78.5), (1996.25, 76.8),
            (1996.42, 75), (1996.59, 78.5), (1996.76, 82), (1996.94, 83.6), (1997.11, 85.2), (1997.28, 87.2),
            (1997.45, 85.2), (1997.62, 92.5), (1997.79, 87.2), (1997.96, 85.2), (1998.13, 82), (1998.31, 78.5),
            (1998.48, 75), (1998.65, 73.6), (1998.82, 72), (1998.99, 70), (1999.16, 68.6), (1999.33, 70),
            (1999.5, 72), (1999.68, 75), (1999.85, 78.5), (2000.02, 83.6), (2000.19, 85.2), (2000.36, 82),
            (2000.62, 78.5), (2000.86, 84), (2001.11, 89), (2001.37, 82), (2001.62, 77), (2001.88, 72),
            (2002.14, 75.4), (2002.39, 77), (2002.65, 75.4), (2002.9, 77), (2003.16, 75.4), (2003.42, 77),
            (2003.67, 78.8), (2003.84, 85.7), (2004.01, 90.8), (2004.18, 96), (2004.35, 99.3), (2004.52, 101),
            (2004.69, 97.6), (2004.86, 99.3), (2005.03, 102.7), (2005.2, 99.3), (2005.38, 97.6),
            (2005.55, 99.3), (2005.72, 113), (2005.89, 126.6), (2006.06, 140), (2006.23, 150.5),
            (2006.4, 147), (2006.57, 150.5), (2006.74, 143.7), (2006.91, 147), (2007.08, 150.5),
            (2007.26, 147), (2007.43, 140), (2007.6, 133.4), (2007.77, 135), (2007.94, 137), (2008.07, 160.8),
            (2008.2, 164), (2008.33, 160.8), (2008.46, 150.5), (2008.58, 137), (2008.71, 113), (2008.84, 82),
            (2008.97, 75.4), (2009.1, 72), (2009.23, 78.8), (2009.36, 82), (2009.48, 92.5), (2009.61, 102.7),
            (2009.74, 99.3), (2009.87, 109.6), (2010.0, 119.8), (2010.13, 113), (2010.26, 125),
            (2010.38, 113), (2010.51, 106), (2010.64, 113), (2010.77, 126.6), (2010.9, 128), (2011.03, 133.4),
            (2011.2, 143.7), (2011.33, 140), (2011.46, 137), (2011.63, 126.6), (2011.8, 116), (2011.93, 111),
            (2012.05, 119.8), (2012.18, 116), (2012.31, 109.6), (2012.44, 102.7), (2012.57, 101),
            (2012.7, 111), (2012.83, 108), (2012.91, 113), (2013.0, 111), (2013.08, 111), (2013.17, 104.4)]

series = [
    ("Iron Ore Fines", iron_ore, "#8c5d0b"),
    ("Gold", gold, "#ebb52e"),
    ("Tin", tin, "#8a8a8a"),
    ("Silver", silver, "#3b3b3b"),
    ("Indonesian Liquefied Natural Gas", lng, "#8fa83b"),
    ("Copper, grade A cathode", copper, "#3f5d63"),
    ("Crude Oil", crude_oil, "#a3210e"),
    ("Lead", lead, "#7b743d"),
    ("Coal", coal, "#8b9fac"),
    ("Zinc", zinc, "#b95533"),
    ("Aluminum", aluminum, "#6d4551"),
]

W, H = 1362, 763
fig = plt.figure(figsize=(W / 100, H / 100), dpi=100)
x0, x1, y0, y1 = 57, 1352, 706.5, 23.5
ax = fig.add_axes([x0 / W, 1 - y0 / H, (x1 - x0) / W, (y0 - y1) / H])

# draw last legend entry first so the first ones sit on top
handles = {}
for name, pts, color in reversed(series):
    xs = [p[0] for p in pts]
    ys = [p[1] for p in pts]
    line, = ax.plot(xs, ys, color=color, lw=2.2, solid_joinstyle='round', label=name)
    handles[name] = line

ax.set_xlim(1980, 2013.25)
ax.set_ylim(0, 700)
ax.yaxis.set_major_locator(MultipleLocator(100))
ax.set_xticks(range(1980, 2014))
ax.set_xticklabels([str(y) for y in range(1980, 2014)], rotation=90)

grid_col = "#a6a6a6"
for v in range(100, 701, 100):
    ax.axhline(v, color=grid_col, lw=1.1, ls=(0, (4, 3.5)), zorder=0)

for s in ("top", "right"):
    ax.spines[s].set_visible(False)
for s in ("left", "bottom"):
    ax.spines[s].set_color("#9a9a9a")
    ax.spines[s].set_linewidth(1.6)
ax.tick_params(axis="y", length=5, width=1.1, color=grid_col, labelsize=14, labelcolor="#4a4a4a", pad=5)
ax.tick_params(axis="x", direction="inout", length=8, width=1.1, color="#9a9a9a", labelsize=14,
               labelcolor="#4a4a4a", pad=4)

leg = ax.legend([handles[n] for n, _, _ in series], [n for n, _, _ in series],
                loc="upper left", bbox_to_anchor=((137 - x0) / (x1 - x0), (y0 - 40) / (y0 - y1)),
                frameon=False, fontsize=14.3, handlelength=2.2, handletextpad=0.88,
                labelspacing=0.595, borderpad=0, borderaxespad=0)
for lh in leg.get_lines():
    lh.set_linewidth(5)
    lh.set_solid_capstyle("round")
for t in leg.get_texts():
    t.set_color("#3a3a3a")

fig.savefig("out.png", dpi=100)
